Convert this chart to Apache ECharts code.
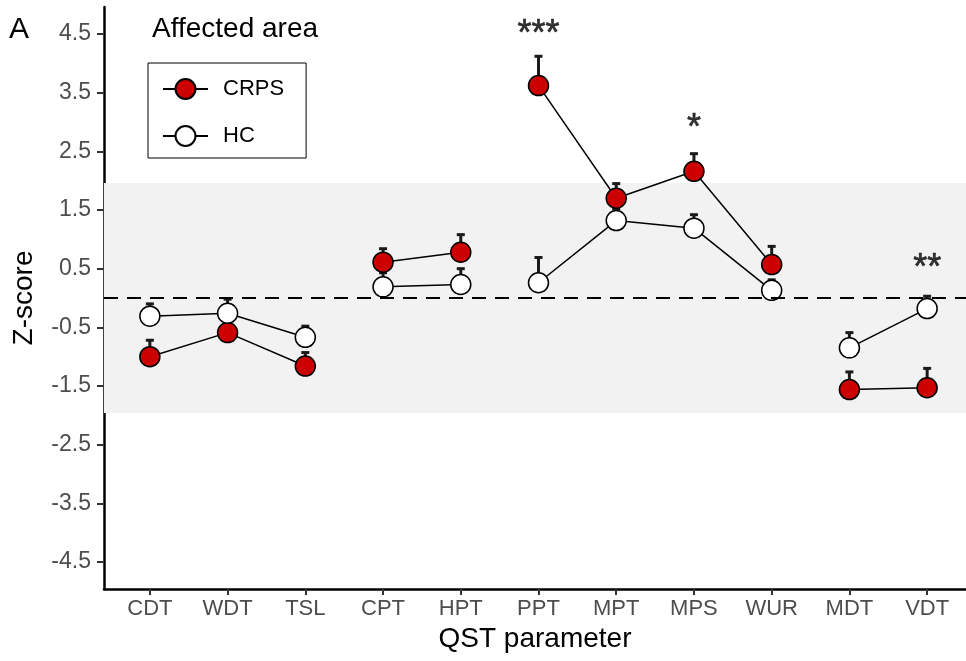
<!DOCTYPE html>
<html>
<head>
<meta charset="utf-8">
<script src="https://cdn.jsdelivr.net/npm/echarts@6/dist/echarts.min.js"></script>
<style>html,body{margin:0;padding:0;background:#fff}#c{width:966px;height:661px}</style>
</head>
<body>
<div id="c"></div>
<script>
var categories = ['CDT','WDT','TSL','CPT','HPT','PPT','MPT','MPS','WUR','MDT','VDT'];
var groups     = [0,0,0,1,1,2,2,2,2,3,3];
var crpsMean   = [-1.00,-0.59,-1.16,0.61,0.78,3.62,1.70,2.16,0.57,-1.56,-1.53];
var crpsUpper  = [-0.72,-0.45,-0.93,0.84,1.08,4.12,1.95,2.46,0.88,-1.26,-1.20];
var hcMean     = [-0.31,-0.26,-0.67,0.19,0.23,0.26,1.32,1.19,0.13,-0.85,-0.18];
var hcUpper    = [-0.10,-0.02,-0.48,0.43,0.50,0.69,1.52,1.42,0.31,-0.59,0.03];
var signifIdx  = [5, 7, 10];
var signifText = ['***', '*', '**'];
var signifY    = [4.48, 2.88, 0.49];
var yTicks     = [-4.5,-3.5,-2.5,-1.5,-0.5,0.5,1.5,2.5,3.5,4.5];
var normalBand = [-1.96, 1.96];

function lineData(mean){
  var out = [];
  for (var i=0;i<mean.length;i++){
    if (i>0 && groups[i]!==groups[i-1]) out.push([i-0.5,'-']);
    out.push([i,mean[i]]);
  }
  return out;
}
function errData(mean, up){
  return mean.map(function(m,i){return [i,m,up[i]];});
}
function renderErr(params, api){
  var x = api.value(0), m = api.value(1), u = api.value(2);
  var p0 = api.coord([x,m]), p1 = api.coord([x,u]);
  var hw = 4;
  var st = {stroke:'#1a1a1a', lineWidth:3};
  return {type:'group', children:[
    {type:'line', shape:{x1:p0[0],y1:p0[1],x2:p1[0],y2:p1[1]}, style:st},
    {type:'line', shape:{x1:p1[0]-hw,y1:p1[1],x2:p1[0]+hw,y2:p1[1]}, style:st}
  ]};
}
var sigData = signifIdx.map(function(ix,k){ return {value:[ix, signifY[k]], name:signifText[k]}; });

var chart = echarts.init(document.getElementById('c'), null, {renderer:'canvas'});
chart.setOption({
  animation:false,
  backgroundColor:'#fff',
  title:[
    {text:'A', left:4, top:10, textStyle:{fontFamily:'Liberation Sans', fontSize:30, fontWeight:'normal', color:'#000'}},
    {text:'Affected area', left:147, top:10, textStyle:{fontFamily:'Liberation Sans', fontSize:28, fontWeight:'normal', color:'#000'}}
  ],
  legend:{
    orient:'vertical', left:148, top:63,
    data:['CRPS','HC'],
    borderColor:'#000', borderWidth:1, borderRadius:0,
    padding:[15,22,11,14],
    itemWidth:45, itemHeight:25, itemGap:25,
    textStyle:{fontFamily:'Liberation Sans', fontSize:22, color:'#000', padding:[0,0,0,10]}
  },
  grid:{left:104, right:0, top:7, bottom:72, outerBoundsMode:'none'},
  xAxis:{
    type:'value', min:-0.59, max:10.5,
    name:'QST parameter', nameLocation:'middle', nameGap:36,
    nameTextStyle:{fontFamily:'Liberation Sans', fontSize:28, color:'#000'},
    axisLine:{show:true, onZero:false, lineStyle:{color:'#000', width:2.5}},
    axisTick:{show:true, length:6, customValues:categories.map(function(c,i){return i;}), lineStyle:{color:'#333', width:2}},
    axisLabel:{customValues:categories.map(function(c,i){return i;}), formatter:function(v){return categories[Math.round(v)];}, fontFamily:'Liberation Sans', fontSize:22, color:'#4d4d4d', margin:9},
    splitLine:{show:false}
  },
  yAxis:{
    type:'value', min:-4.96, max:4.96,
    name:'Z-score', nameLocation:'middle', nameGap:66,
    nameTextStyle:{fontFamily:'Liberation Sans', fontSize:28, color:'#000'},
    axisLine:{show:true, onZero:false, lineStyle:{color:'#000', width:2.5}},
    axisTick:{show:true, length:7, customValues:yTicks, lineStyle:{color:'#333', width:2}},
    axisLabel:{customValues:yTicks, formatter:function(v){return v.toFixed(1);}, fontFamily:'Liberation Sans', fontSize:23, color:'#4d4d4d', margin:13},
    splitLine:{show:false}
  },
  series:[
    {type:'line', name:'band', data:[], z:0, silent:true,
     markArea:{silent:true, itemStyle:{color:'#f2f2f2'}, data:[[{yAxis:normalBand[0]},{yAxis:normalBand[1]}]]},
     markLine:{silent:true, symbol:['none','none'], label:{show:false}, lineStyle:{color:'#000', width:2, type:[14,9]}, data:[{yAxis:0}]}
    },
    {type:'custom', name:'errCRPS', renderItem:renderErr, data:errData(crpsMean,crpsUpper), encode:{x:0,y:[1,2]}, z:1, silent:true},
    {type:'custom', name:'errHC', renderItem:renderErr, data:errData(hcMean,hcUpper), encode:{x:0,y:[1,2]}, z:1, silent:true},
    {type:'line', name:'CRPS', data:lineData(crpsMean), connectNulls:false, symbol:'circle', symbolSize:20, showAllSymbol:true,
     lineStyle:{color:'#000', width:1.5}, itemStyle:{color:'#cc0000', borderColor:'#000', borderWidth:1.5}, z:3},
    {type:'line', name:'HC', data:lineData(hcMean), connectNulls:false, symbol:'circle', symbolSize:20, showAllSymbol:true,
     lineStyle:{color:'#000', width:1.5}, itemStyle:{color:'#fff', borderColor:'#000', borderWidth:1.5}, z:3},
    {type:'scatter', name:'sig', data:sigData, symbolSize:1, itemStyle:{color:'rgba(0,0,0,0)'}, z:4, silent:true,
     label:{show:true, position:'inside', formatter:function(p){return p.name;}, fontFamily:'Liberation Sans', fontSize:36, fontWeight:'normal', color:'#000', textBorderWidth:0.6, textBorderColor:'#000'}}
  ]
});
</script>
</body>
</html>
